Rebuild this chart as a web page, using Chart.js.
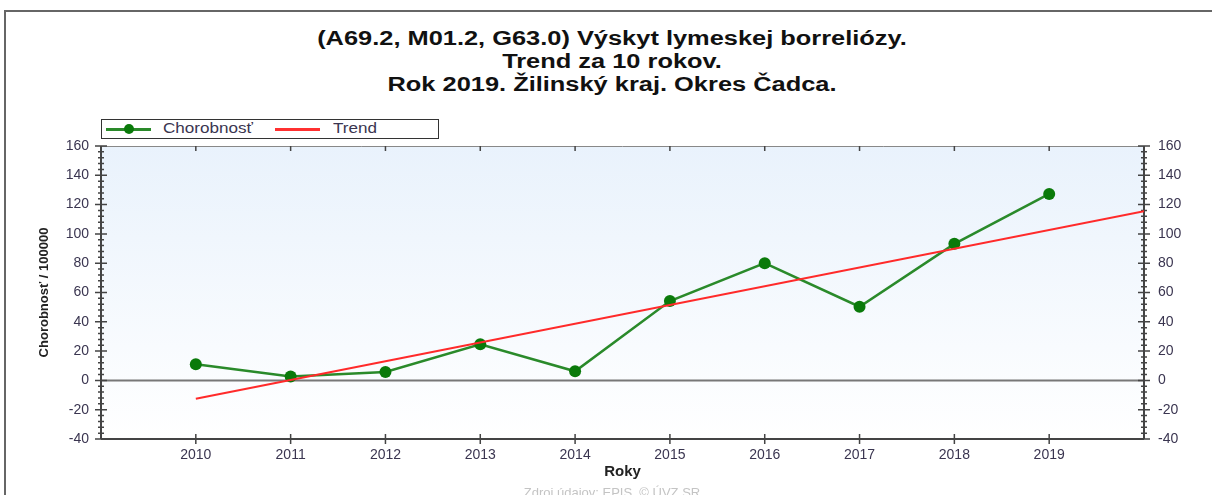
<!DOCTYPE html>
<html>
<head>
<meta charset="utf-8">
<script src="https://cdn.jsdelivr.net/npm/chart.js@4"></script>
<style>
  body { margin: 0; background: #fff; font-family: "Liberation Sans", Arial, sans-serif; }
  #wrap { position: relative; width: 1212px; height: 495px; overflow: hidden; }
  #frame { position: absolute; left: 4px; top: 10px; width: 1260px; height: 520px;
           border-top: 2px solid #666; border-left: 2px solid #666; }
  #title { position: absolute; left: 0; top: 27px; width: 1224px; text-align: center;
           font-weight: bold; font-size: 20px; line-height: 23px; color: #111;
           transform: scaleX(1.27); transform-origin: 612px 0; }
  #legend { position: absolute; left: 101px; top: 119px; width: 336px; height: 18px;
            border: 1px solid #333; font-size: 14px; color: #3a3550; background: #fff; }
  #legend span { position: absolute; top: 0px; transform: scaleX(1.22); transform-origin: 0 0; }
  #legend i { position: absolute; top: 8px; height: 3px; }
  #legend b { position: absolute; top: 4px; width: 10px; height: 10px; border-radius: 50%; background: #0a7a0a; }
  #footer { position: absolute; left: 0; top: 485px; width: 1224px; text-align: center;
            font-size: 13px; color: #c4c4c4; }
  canvas { position: absolute; left: 0; top: 0; }
</style>
</head>
<body>
<div id="wrap">
  <div id="frame"></div>
  <div id="title">(A69.2, M01.2, G63.0) Výskyt lymeskej borreliózy.<br>Trend za 10 rokov.<br>Rok 2019. Žilinský kraj. Okres Čadca.</div>
  <div id="legend">
    <i style="left:4px;width:45px;background:#2a8a2a"></i><b style="left:22px"></b>
    <span style="left:61px">Chorobnosť</span>
    <i style="left:173px;width:45px;background:#ff3030"></i>
    <span style="left:231px">Trend</span>
  </div>
  <canvas id="chart" width="1212" height="495"></canvas>
  <div id="footer">Zdroj údajov: EPIS, © ÚVZ SR</div>
</div>
<script>
const years = [2010, 2011, 2012, 2013, 2014, 2015, 2016, 2017, 2018, 2019];
const chorobnost = [11, 2.7, 5.7, 24.7, 6.2, 54.2, 80, 50.3, 93.2, 127.3];
const trendYears = [2010, 2020];
const trendValues = [-12.5, 115.4];
const yTicks = [-40, -20, 0, 20, 40, 60, 80, 100, 120, 140, 160];

const axisColor = "#444";
const labelColor = "#3a3550";

// plot background + tick marks like the original
const decor = {
  id: "decor",
  beforeDatasetsDraw(chart) {
    const { ctx, chartArea: a, scales } = chart;
    ctx.save();
    const g = ctx.createLinearGradient(0, a.top, 0, a.bottom);
    g.addColorStop(0, "#e9f2fc");
    g.addColorStop(1, "#ffffff");
    ctx.fillStyle = g;
    ctx.fillRect(a.left, a.top, a.right - a.left, a.bottom - a.top);
    // zero line
    const z = scales.y.getPixelForValue(0);
    ctx.strokeStyle = "#777";
    ctx.lineWidth = 2;
    ctx.beginPath(); ctx.moveTo(a.left, z); ctx.lineTo(a.right, z); ctx.stroke();
    // frame
    ctx.strokeStyle = "#888";
    ctx.lineWidth = 1;
    ctx.beginPath(); ctx.moveTo(a.left, a.top + 0.5); ctx.lineTo(a.right, a.top + 0.5); ctx.stroke();
    ctx.strokeStyle = axisColor;
    ctx.lineWidth = 2;
    ctx.beginPath();
    ctx.moveTo(a.left, a.top); ctx.lineTo(a.left, a.bottom);
    ctx.moveTo(a.right, a.top); ctx.lineTo(a.right, a.bottom);
    ctx.moveTo(a.left, a.bottom); ctx.lineTo(a.right, a.bottom);
    ctx.stroke();
    // y ticks on both sides
    ctx.lineWidth = 1.5;
    for (let v = -40; v <= 160; v += 4) {
      const y = scales.y.getPixelForValue(v);
      const major = v % 20 === 0;
      const l = major ? 6 : 3;
      ctx.beginPath();
      ctx.moveTo(a.left - l, y); ctx.lineTo(a.left + l, y);
      ctx.moveTo(a.right - l, y); ctx.lineTo(a.right + l, y);
      ctx.stroke();
    }
    // x ticks top and bottom
    years.forEach((yr) => {
      const x = scales.x.getPixelForValue(yr);
      ctx.beginPath();
      ctx.moveTo(x, a.top); ctx.lineTo(x, a.top + 5);
      ctx.moveTo(x, a.bottom - 5); ctx.lineTo(x, a.bottom + 5);
      ctx.stroke();
    });
    ctx.restore();
  },
};

new Chart(document.getElementById("chart"), {
  type: "line",
  data: {
    datasets: [
      {
        label: "Trend",
        data: trendYears.map((x, i) => ({ x, y: trendValues[i] })),
        borderColor: "#ff2a2a",
        borderWidth: 2,
        pointRadius: 0,
      },
      {
        label: "Chorobnosť",
        data: years.map((x, i) => ({ x, y: chorobnost[i] })),
        borderColor: "#2a8a2a",
        backgroundColor: "#0a7a0a",
        borderWidth: 2.5,
        pointRadius: 6,
        pointBorderWidth: 0,
      },
    ],
  },
  options: {
    responsive: false,
    animation: false,
    layout: { padding: { top: 146, left: 0, right: 0, bottom: 0 } },
    plugins: { legend: { display: false }, title: { display: false }, tooltip: { enabled: false } },
    scales: {
      x: {
        type: "linear",
        min: 2009,
        max: 2020,
        grid: { display: false, drawTicks: false },
        border: { display: false },
        afterBuildTicks: (s) => { s.ticks = years.map((v) => ({ value: v })); },
        afterFit: (s) => { s.height = 56; },
        ticks: {
          color: labelColor,
          font: { family: "Liberation Sans", size: 14 },
          padding: 8,
          maxRotation: 0,
          callback: (v) => String(v),
        },
        title: {
          display: true,
          text: "Roky",
          color: "#222",
          font: { family: "Liberation Sans", size: 15, weight: "bold" },
          padding: { top: 2, bottom: 14 },
        },
      },
      y: {
        position: "left",
        min: -40,
        max: 160,
        grid: { display: false, drawTicks: false },
        border: { display: false },
        afterBuildTicks: (s) => { s.ticks = yTicks.map((v) => ({ value: v })); },
        afterFit: (s) => { s.width = 101; },
        ticks: { color: labelColor, font: { family: "Liberation Sans", size: 14 }, padding: 12 },
        title: {
          display: true,
          text: "Chorobnosť / 100000",
          color: "#222",
          font: { family: "Liberation Sans", size: 13, weight: "bold" },
          padding: { top: 37, bottom: 4 },
        },
      },
      y2: {
        position: "right",
        min: -40,
        max: 160,
        grid: { display: false, drawTicks: false },
        border: { display: false },
        afterBuildTicks: (s) => { s.ticks = yTicks.map((v) => ({ value: v })); },
        afterFit: (s) => { s.width = 68; },
        ticks: { color: labelColor, font: { family: "Liberation Sans", size: 14 }, padding: 14 },
      },
    },
  },
  plugins: [decor],
});
</script>
</body>
</html>
